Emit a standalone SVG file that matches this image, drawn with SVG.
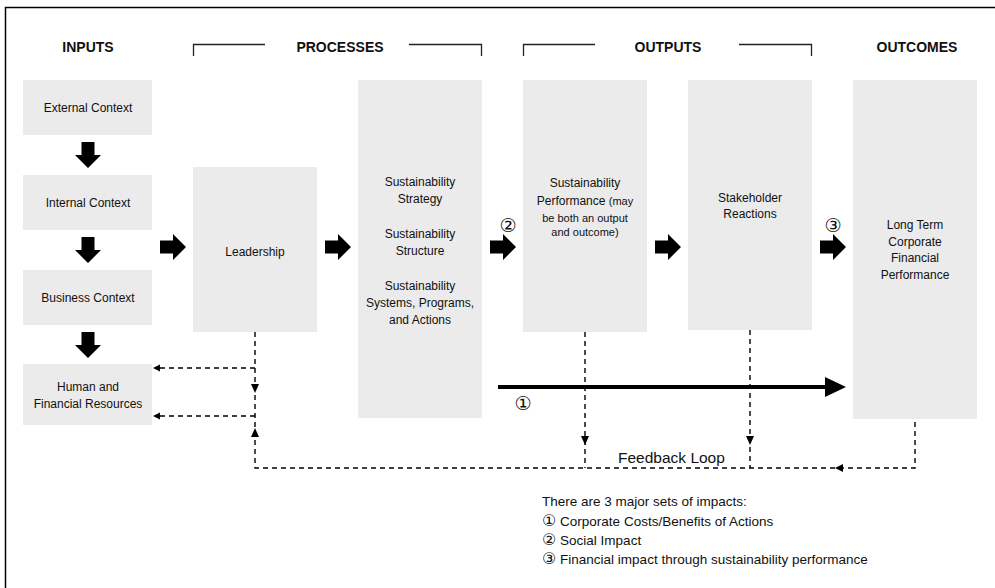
<svg xmlns="http://www.w3.org/2000/svg" width="995" height="588" viewBox="0 0 995 588">
  <style>
    text { font-family: "Liberation Sans", "DejaVu Sans", sans-serif; fill: #111; }
    .hdr { font-size: 14px; font-weight: bold; text-anchor: middle; }
    .lbl { font-size: 12px; text-anchor: middle; }
    .sm { font-size: 11px; }
    .num { font-family: "DejaVu Sans", sans-serif; font-size: 19px; text-anchor: middle; }
    .cn { font-family: "DejaVu Sans", sans-serif; font-size: 16px; }
    .box { fill: #ebebeb; }
    .dash { fill: none; stroke: #000; stroke-width: 1.4; stroke-dasharray: 5 4; }
    .bracket { fill: none; stroke: #222; stroke-width: 1.3; }
    .legend { font-size: 13.5px; }
  </style>
  <defs>
    <!-- block arrow pointing right, origin at the tail centre -->
    <path id="blk" d="M0,-6.5 H13 V-13 L26,0 L13,13 V6.5 H0 Z" fill="#000"/>
    <path id="tipDown" d="M-4,-9 H4 L0,0 Z" fill="#000"/>
    <path id="tipLeft" d="M0,0 L7,-3.5 V3.5 Z" fill="#000"/>
  </defs>

  <!-- frame -->
  <path d="M5.5,588 V7.5 H995" fill="none" stroke="#000" stroke-width="1.5"/>

  <!-- column headings -->
  <g id="headings">
    <text class="hdr" x="88" y="52">INPUTS</text>
    <text class="hdr" x="340" y="52">PROCESSES</text>
    <text class="hdr" x="668" y="52">OUTPUTS</text>
    <text class="hdr" x="917" y="52">OUTCOMES</text>
    <path class="bracket" d="M193.5,56 V44.5 H265"/>
    <path class="bracket" d="M409,44.5 H481.5 V56"/>
    <path class="bracket" d="M523.5,56 V44.5 H595"/>
    <path class="bracket" d="M739,44.5 H811.5 V56"/>
  </g>

  <!-- input boxes -->
  <g id="external-context">
    <rect class="box" x="23" y="80" width="129" height="55"/>
    <text class="lbl" x="88" y="112">External Context</text>
  </g>
  <g id="internal-context">
    <rect class="box" x="23" y="175" width="129" height="55"/>
    <text class="lbl" x="88" y="207">Internal Context</text>
  </g>
  <g id="business-context">
    <rect class="box" x="23" y="270" width="129" height="55"/>
    <text class="lbl" x="88" y="302">Business Context</text>
  </g>
  <g id="resources">
    <rect class="box" x="23" y="364" width="129" height="61"/>
    <text class="lbl" x="88" y="391">Human and</text>
    <text class="lbl" x="88" y="408">Financial Resources</text>
  </g>

  <!-- process boxes -->
  <g id="leadership">
    <rect class="box" x="193" y="167" width="124" height="165"/>
    <text class="lbl" x="255" y="256">Leadership</text>
  </g>
  <g id="sustainability-strategy">
    <rect class="box" x="358" y="80" width="124" height="338"/>
    <text class="lbl" x="420" y="186">Sustainability</text>
    <text class="lbl" x="420" y="203">Strategy</text>
    <text class="lbl" x="420" y="238">Sustainability</text>
    <text class="lbl" x="420" y="255">Structure</text>
    <text class="lbl" x="420" y="290">Sustainability</text>
    <text class="lbl" x="420" y="307">Systems, Programs,</text>
    <text class="lbl" x="420" y="324">and Actions</text>
  </g>

  <!-- output boxes -->
  <g id="sustainability-performance">
    <rect class="box" x="523" y="80" width="124" height="252"/>
    <text class="lbl" x="585" y="187">Sustainability</text>
    <text class="lbl" x="585" y="205">Performance <tspan class="sm">(may</tspan></text>
    <text class="lbl sm" x="585" y="222">be both an output</text>
    <text class="lbl sm" x="585" y="236">and outcome)</text>
  </g>
  <g id="stakeholder-reactions">
    <rect class="box" x="688" y="80" width="124" height="250"/>
    <text class="lbl" x="750" y="202">Stakeholder</text>
    <text class="lbl" x="750" y="218">Reactions</text>
  </g>

  <!-- outcome box -->
  <g id="financial-performance">
    <rect class="box" x="853" y="80" width="124" height="339"/>
    <text class="lbl" x="915" y="229">Long Term</text>
    <text class="lbl" x="915" y="246">Corporate</text>
    <text class="lbl" x="915" y="262">Financial</text>
    <text class="lbl" x="915" y="279">Performance</text>
  </g>

  <!-- connectors -->
  <g id="connectors">
    <!-- block arrows down the inputs column -->
    <use href="#blk" transform="translate(88,142) rotate(90)"/>
    <use href="#blk" transform="translate(88,237) rotate(90)"/>
    <use href="#blk" transform="translate(88,332) rotate(90)"/>
    <!-- block arrows across the chain -->
    <use href="#blk" x="160" y="247"/>
    <use href="#blk" x="325" y="247"/>
    <use href="#blk" x="490" y="247"/>
    <use href="#blk" x="655" y="247"/>
    <use href="#blk" x="820" y="247"/>

    <!-- impact 1: costs/benefits straight to financial performance -->
    <line x1="498" y1="387" x2="827" y2="387" stroke="#000" stroke-width="4"/>
    <path d="M825,377 L846,387 L825,397 Z" fill="#000"/>

    <!-- feedback loop -->
    <path class="dash" d="M255,332 V468 H915 V419"/>
    <path class="dash" d="M255,368 H157"/>
    <path class="dash" d="M255,416 H157"/>
    <path class="dash" d="M585,332 V468"/>
    <path class="dash" d="M750,330 V468"/>
    <use href="#tipLeft" x="153" y="368"/>
    <use href="#tipLeft" x="153" y="416"/>
    <use href="#tipDown" x="255" y="393"/>
    <path d="M251,437 H259 L255,428 Z" fill="#000"/>
    <use href="#tipDown" x="585" y="445"/>
    <use href="#tipDown" x="750" y="445"/>
    <path d="M835,468 L843,464 V472 Z" fill="#000"/>
  </g>

  <!-- impact markers -->
  <g id="impact-markers">
    <text class="num" x="508" y="232">②</text>
    <text class="num" x="833" y="232">③</text>
    <text class="num" x="523" y="410">①</text>
  </g>

  <text x="618" y="463" style="font-size:15.5px">Feedback Loop</text>

  <g id="legend">
    <text class="legend" x="542" y="506">There are 3 major sets of impacts:</text>
    <text class="legend" x="542" y="526"><tspan class="cn">①</tspan> Corporate Costs/Benefits of Actions</text>
    <text class="legend" x="542" y="545"><tspan class="cn">②</tspan> Social Impact</text>
    <text class="legend" x="542" y="564"><tspan class="cn">③</tspan> Financial impact through sustainability performance</text>
  </g>
</svg>
